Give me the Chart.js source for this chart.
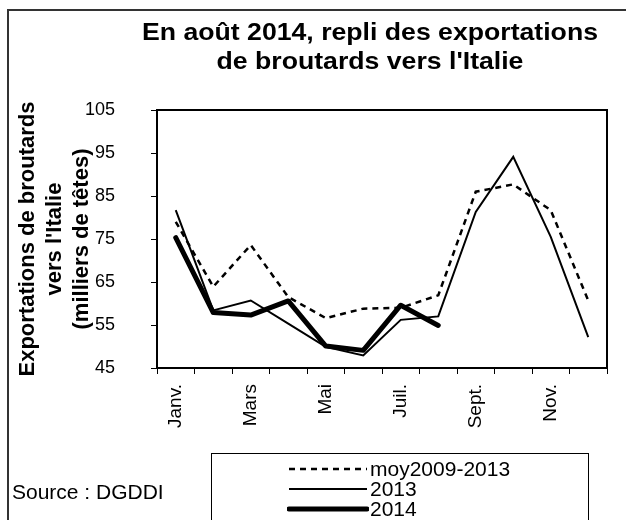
<!DOCTYPE html>
<html>
<head>
<meta charset="utf-8">
<script src="https://cdn.jsdelivr.net/npm/chart.js@4.4.1/dist/chart.umd.min.js"></script>
<style>
html, body { margin: 0; padding: 0; background: #fff; overflow: hidden; }
body { width: 626px; height: 520px; position: relative; font-family: 'Liberation Sans', Arial, sans-serif; color: #000; }
#frame { position: absolute; left: 7px; top: 9px; width: 700px; height: 600px; border: 2px solid #333; }
#wrap { position: absolute; left: 0; top: 0; width: 626px; height: 520px; }
#title { position: absolute; left: 70px; top: 18px; width: 600px; text-align: center; font-weight: bold;
         font-size: 24px; line-height: 28.5px; transform: scaleX(1.11); transform-origin: 50% 0; }
#source { position: absolute; left: 12px; top: 481px; font-size: 21px; line-height: 21px; white-space: nowrap; }
#legend { position: absolute; left: 211px; top: 453px; width: 376px; height: 100px; border: 1px solid #000; }
.row { position: absolute; left: 0; height: 20px; width: 376px; }
.row svg { position: absolute; left: 75px; top: 0; }
.row span { position: absolute; left: 158px; top: 0px; font-size: 21px; line-height: 20px; white-space: nowrap; }
</style>
</head>
<body>
<div id="frame"></div>
<div id="wrap"><canvas id="chart"></canvas></div>
<div id="title">En août 2014, repli des exportations<br>de broutards vers l'Italie</div>
<div id="source">Source : DGDDI</div>
<div id="legend"></div>
<script>
// mois (seuls un sur deux sont affichés sur l'axe)
const months = ['Janv.', 'Févr.', 'Mars', 'Avr.', 'Mai', 'Juin', 'Juil.', 'Août', 'Sept.', 'Oct.', 'Nov.', 'Déc.'];

// milliers de têtes
const moy0913 = [79, 63.9, 73.6, 61.5, 56.6, 58.8, 59, 61.9, 86, 87.7, 81.7, 60.7];
const y2013 = [81.7, 58.4, 60.7, 55.3, 49.9, 47.9, 56.2, 57, 81.3, 94.1, 75.5, 52.2];
const y2014 = [75.3, 57.9, 57.3, 60.6, 50.1, 49.1, 59.6, 54.9];

const yTicks = [45, 55, 65, 75, 85, 95, 105];

const seriesNames = ['moy2009-2013', '2013', '2014'];
const yTitle = ['Exportations de broutards', "vers l'Italie", '(milliers de têtes)'];

Chart.defaults.font.family = "'Liberation Sans', Arial, sans-serif";
Chart.defaults.color = '#000';

// cadre autour de la zone de tracé
const frameBox = {
    id: 'frameBox',
    afterDraw(chart) {
        const a = chart.chartArea;
        const c = chart.ctx;
        c.save();
        c.strokeStyle = '#000';
        c.lineWidth = 2;
        c.strokeRect(a.left, a.top, a.right - a.left, a.bottom - a.top);
        c.restore();
    }
};

const ctx = document.getElementById('chart').getContext('2d');
new Chart(ctx, {
    type: 'line',
    data: {
        labels: months,
        datasets: [
            { label: seriesNames[2], data: y2014, borderColor: '#000', borderWidth: 5, borderCapStyle: 'round', borderJoinStyle: 'round', pointRadius: 0, tension: 0 },
            { label: seriesNames[1], data: y2013, borderColor: '#000', borderWidth: 2, pointRadius: 0, tension: 0 },
            { label: seriesNames[0], data: moy0913, borderColor: '#000', borderWidth: 2.5, borderDash: [6, 5], pointRadius: 0, tension: 0 }
        ]
    },
    options: {
        responsive: true,
        maintainAspectRatio: false,
        animation: false,
        layout: { padding: { left: 0, right: 19, top: 110, bottom: 82 } },
        plugins: { legend: { display: false }, title: { display: false }, tooltip: { enabled: false } },
        scales: {
            x: {
                type: 'category',
                offset: true,
                grid: { offset: true, drawOnChartArea: false, tickLength: 6, color: '#000', lineWidth: 1 },
                border: { display: true, color: '#000', width: 2 },
                ticks: {
                    autoSkip: false, maxRotation: 90, minRotation: 90, padding: 10,
                    font: { size: 19 },
                    callback: function (v, i) { return i % 2 === 0 ? months[i] : ''; }
                },
                afterFit: function (s) { s.height = 70; }
            },
            y: {
                min: 45, max: 105,
                afterBuildTicks: function (s) { s.ticks = yTicks.map(v => ({ value: v })); },
                grid: { drawOnChartArea: false, tickLength: 6, color: '#000', lineWidth: 1 },
                border: { display: true, color: '#000', width: 2 },
                ticks: { padding: 36, font: { size: 18 } },
                title: {
                    display: true, text: yTitle,
                    font: { size: 22, weight: 'bold', lineHeight: 1.227 },
                    padding: { top: 14, bottom: 0 }
                },
                afterFit: function (s) { s.width = 157; }
            }
        }
    },
    plugins: [frameBox]
});

// légende
const legend = document.getElementById('legend');
const styles = [
    { w: 2.5, dash: '6 5', cap: 'butt' },
    { w: 2, dash: '', cap: 'butt' },
    { w: 5, dash: '', cap: 'round' }
];
seriesNames.forEach((name, i) => {
    const row = document.createElement('div');
    row.className = 'row';
    row.style.top = (5 + i * 20) + 'px';
    const st = styles[i];
    row.innerHTML = '<svg width="82" height="20"><line x1="2" y1="10" x2="80" y2="10" stroke="#000" stroke-width="' + st.w +
        '" stroke-dasharray="' + st.dash + '" stroke-linecap="' + st.cap + '"/></svg><span>' + name + '</span>';
    legend.appendChild(row);
});
</script>
</body>
</html>
